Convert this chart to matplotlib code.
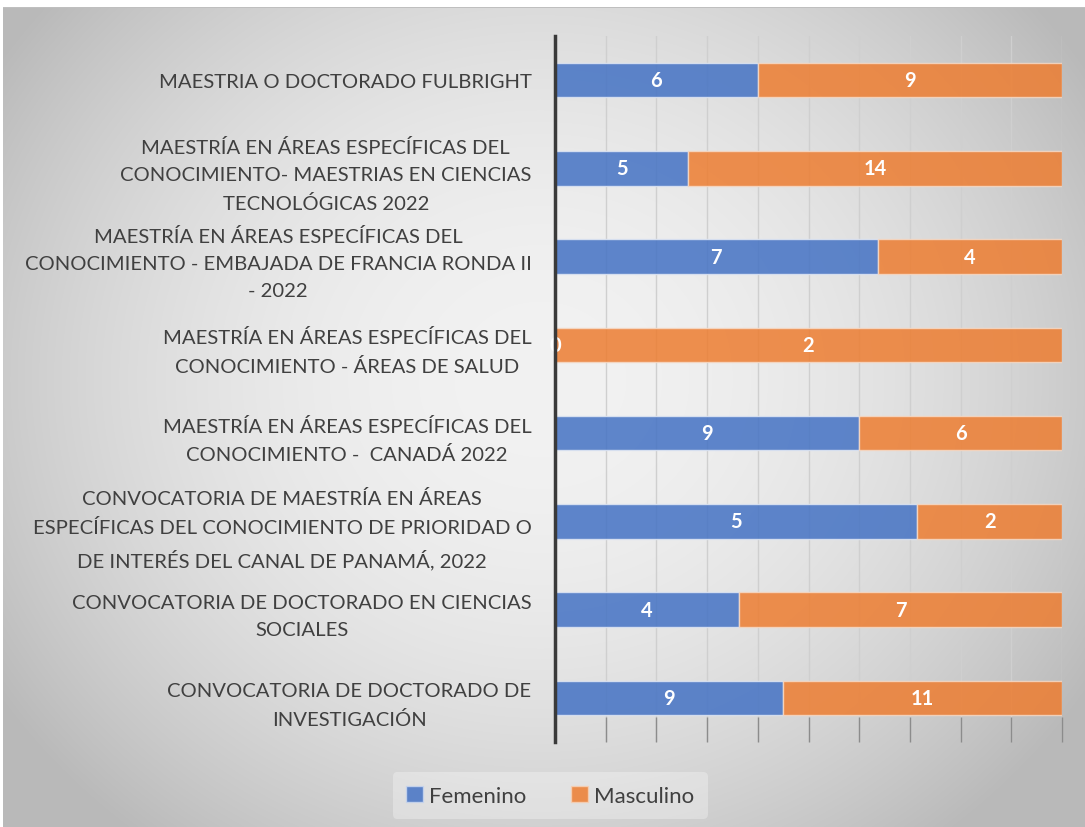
import numpy as np
import matplotlib
matplotlib.use("Agg")
import matplotlib.pyplot as plt
from matplotlib.patches import Patch

plt.rcParams['font.family'] = ['Lato', 'DejaVu Sans']

# categories, top to bottom
categorias = [
    "MAESTRIA O DOCTORADO FULBRIGHT",
    "MAESTRÍA EN ÁREAS ESPECÍFICAS DEL\nCONOCIMIENTO- MAESTRIAS EN CIENCIAS\nTECNOLÓGICAS 2022",
    "MAESTRÍA EN ÁREAS ESPECÍFICAS DEL\nCONOCIMIENTO - EMBAJADA DE FRANCIA RONDA II\n- 2022",
    "MAESTRÍA EN ÁREAS ESPECÍFICAS DEL\nCONOCIMIENTO - ÁREAS DE SALUD",
    "MAESTRÍA EN ÁREAS ESPECÍFICAS DEL\nCONOCIMIENTO -  CANADÁ 2022",
    "CONVOCATORIA DE MAESTRÍA EN ÁREAS\nESPECÍFICAS DEL CONOCIMIENTO DE PRIORIDAD O\nDE INTERÉS DEL CANAL DE PANAMÁ, 2022",
    "CONVOCATORIA DE DOCTORADO EN CIENCIAS\nSOCIALES",
    "CONVOCATORIA DE DOCTORADO DE\nINVESTIGACIÓN",
]
femenino = [6, 5, 7, 0, 9, 5, 4, 9]
masculino = [9, 14, 4, 2, 6, 2, 7, 11]

azul = '#4472C4'
naranja = '#ED7D31'
gris_txt = '#404040'

fem = np.array(femenino, dtype=float)
mas = np.array(masculino, dtype=float)
tot = fem + mas
pf = fem / tot
pm = mas / tot
y = np.arange(len(categorias))

fig = plt.figure(figsize=(10.85, 8.28), dpi=100)
fig.patch.set_facecolor('white')

# radial grey gradient background
bg = fig.add_axes([0, 0, 1, 1], zorder=-5)
W, H = 1085, 828
xx, yy = np.meshgrid(np.arange(W), np.arange(H))
r = np.sqrt(((xx - 540) / 620.0) ** 2 + ((yy - 380) / 560.0) ** 2)
val = 242 - 52 * np.clip(r, 0, 1.3) ** 2 / 1.0
val = np.clip(val, 185, 245) / 255.0
img = np.dstack([val, val, val])
img[:8, :, :] = 1.0
img[:, :3, :] = 1.0
img[8, 3:, :] = 0.75
bg.imshow(img, extent=[0, 1, 0, 1], aspect='auto', interpolation='bilinear')
bg.axis('off')

ax = fig.add_axes([555 / W, 1 - 743 / H, (1062 - 555) / W, (743 - 37) / H])
ax.set_facecolor('none')

h = 0.39
ax.barh(y, pf, height=h, color=azul, alpha=0.85, edgecolor='#dfe6f3', linewidth=1, zorder=2)
ax.barh(y, pm, left=pf, height=h, color=naranja, alpha=0.85, edgecolor='#f6d9c5', linewidth=1, zorder=2)

for i in range(len(y)):
    ax.text(pf[i] / 2, y[i], str(femenino[i]), ha='center', va='center',
            color='white', fontsize=14.5, fontweight='bold', zorder=2.3)
    ax.text(pf[i] + pm[i] / 2, y[i], str(masculino[i]), ha='center', va='center',
            color='white', fontsize=14.5, fontweight='bold', zorder=2.3)

ax.set_xlim(0, 1)
ax.set_ylim(len(y) - 0.5, -0.5)
ax.set_xticks(np.linspace(0, 1, 11))
ax.set_xticklabels([])
ax.xaxis.grid(True, color='#cfcfcf', linewidth=1, zorder=0)
ax.set_axisbelow(True)
ax.tick_params(axis='x', direction='in', length=18, color='#8c8c8c', width=1)
ax.set_yticks(y)
ax.set_yticklabels(categorias, fontsize=14.6, color=gris_txt, multialignment='center',
                   linespacing=1.72)
ax.tick_params(axis='y', length=0, pad=17)
for s in ['top', 'right', 'bottom']:
    ax.spines[s].set_visible(False)
ax.spines['left'].set_color('#3a3a3a')
ax.spines['left'].set_linewidth(2.5)
ax.spines['left'].set_zorder(3)

handles = [Patch(facecolor=azul, alpha=0.85, edgecolor='#c9d6ee', label='Femenino'),
           Patch(facecolor=naranja, alpha=0.85, edgecolor='#f6d0b5', label='Masculino')]
leg = fig.legend(handles=handles, loc='center', bbox_to_anchor=(0.507, 0.038), ncol=2,
                 frameon=True, fontsize=16, handlelength=0.75, handleheight=0.75,
                 handletextpad=0.3, columnspacing=2.0, borderpad=0.6)
leg.get_frame().set_facecolor('white')
leg.get_frame().set_alpha(0.3)
leg.get_frame().set_edgecolor('none')
for t in leg.get_texts():
    t.set_color(gris_txt)

fig.savefig('out.png', dpi=100)
